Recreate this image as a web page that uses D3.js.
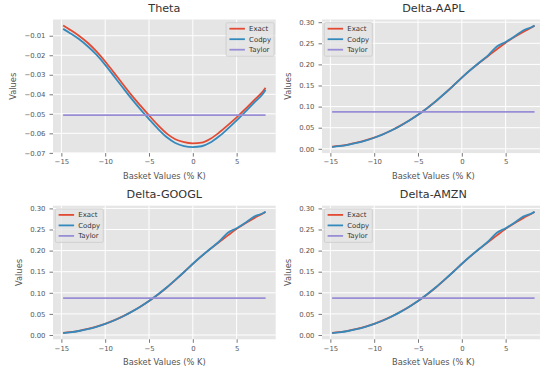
<!DOCTYPE html>
<html>
<head>
<meta charset="utf-8">
<script src="https://cdn.jsdelivr.net/npm/d3@7"></script>
<style>
  body { margin: 0; background: #fff; }
  svg { display: block; font-family: "DejaVu Sans", sans-serif; }
</style>
</head>
<body>
<div id="chart"></div>
<script>
// basket values (% of strike) shared by every series
const basket = [-14.8, -14, -13, -12, -11, -10, -9, -8, -7, -6, -5, -4, -3, -2, -1,
  0, 1, 2, 3, 4, 5, 6, 7, 8, 8.3];

const thetaExact = [-0.0048, -0.0070, -0.0100, -0.0136, -0.0180, -0.0232, -0.0289, -0.0347,
  -0.0404, -0.0457, -0.0508, -0.0557, -0.0600, -0.0630, -0.0645, -0.0651, -0.0648, -0.0628,
  -0.0596, -0.0558, -0.0518, -0.0475, -0.0430, -0.0385, -0.0367];
const thetaCodpy = [-0.0065, -0.0087, -0.0117, -0.0154, -0.0197, -0.0249, -0.0307, -0.0365,
  -0.0422, -0.0476, -0.0527, -0.0576, -0.0619, -0.0649, -0.0665, -0.0670, -0.0666, -0.0647,
  -0.0615, -0.0576, -0.0534, -0.0489, -0.0443, -0.0397, -0.0378];
const thetaTaylor = -0.0507;

const deltaExact = [0.0050, 0.0068, 0.0100, 0.0145, 0.0200, 0.0265, 0.0345, 0.0440, 0.0550,
  0.0670, 0.0805, 0.0955, 0.1120, 0.1300, 0.1490, 0.1685, 0.1870, 0.2040, 0.2200, 0.2360,
  0.2515, 0.2650, 0.2770, 0.2880, 0.2915];
const deltaCodpy = [0.0042, 0.0062, 0.0095, 0.0140, 0.0195, 0.0262, 0.0343, 0.0438, 0.0548,
  0.0670, 0.0805, 0.0958, 0.1125, 0.1305, 0.1492, 0.1688, 0.1872, 0.2045, 0.2215, 0.2425,
  0.2530, 0.2660, 0.2805, 0.2885, 0.2920];
const deltaTaylor = { AAPL: 0.0876, GOOGL: 0.0875, AMZN: 0.0875 };

const xTicks = [-15, -10, -5, 0, 5];
const thetaTicks = [-0.07, -0.06, -0.05, -0.04, -0.03, -0.02, -0.01];
const deltaTicks = [0, 0.05, 0.10, 0.15, 0.20, 0.25, 0.30];

const seriesNames = ['Exact', 'Codpy', 'Taylor'];
const colors = { Exact: '#E24A33', Codpy: '#348ABD', Taylor: '#988ED5' };

const panels = [
  { title: 'Theta', exact: thetaExact, codpy: thetaCodpy, taylor: thetaTaylor, ticks: thetaTicks,
    left: 53, top: 19.5, labelX: 13.5, legend: 'right' },
  { title: 'Delta-AAPL', exact: deltaExact, codpy: deltaCodpy, taylor: deltaTaylor.AAPL, ticks: deltaTicks,
    left: 322, top: 19.5, labelX: 288.5, legend: 'left' },
  { title: 'Delta-GOOGL', exact: deltaExact, codpy: deltaCodpy, taylor: deltaTaylor.GOOGL, ticks: deltaTicks,
    left: 53, top: 205.7, labelX: 19.5, legend: 'left' },
  { title: 'Delta-AMZN', exact: deltaExact, codpy: deltaCodpy, taylor: deltaTaylor.AMZN, ticks: deltaTicks,
    left: 322, top: 205.7, labelX: 288.5, legend: 'left' }
];

const W = 540, H = 373;
const pw = 222.7, ph = 133.6;

const svg = d3.select('#chart').append('svg')
  .attr('width', W).attr('height', H);

// matplotlib-like 5% margins around the data extent
function padded(ext) {
  const m = (ext[1] - ext[0]) * 0.05;
  return [ext[0] - m, ext[1] + m];
}

panels.forEach(p => {
  const g = svg.append('g').attr('transform', `translate(${p.left},${p.top})`);

  const x = d3.scaleLinear()
    .domain(padded(d3.extent(basket)))
    .range([0, pw]);
  const allY = p.exact.concat(p.codpy, [p.taylor]);
  const y = d3.scaleLinear()
    .domain(padded(d3.extent(allY)))
    .range([ph, 0]);

  g.append('rect')
    .attr('width', pw).attr('height', ph)
    .attr('fill', '#E5E5E5');

  // grid
  g.append('g').selectAll('line').data(xTicks).join('line')
    .attr('x1', d => x(d)).attr('x2', d => x(d))
    .attr('y1', 0).attr('y2', ph)
    .attr('stroke', '#fff').attr('stroke-width', 1);
  g.append('g').selectAll('line').data(p.ticks).join('line')
    .attr('y1', d => y(d)).attr('y2', d => y(d))
    .attr('x1', 0).attr('x2', pw)
    .attr('stroke', '#fff').attr('stroke-width', 1);

  // axes
  const xAxis = g.append('g')
    .attr('transform', `translate(0,${ph})`)
    .call(d3.axisBottom(x).tickValues(xTicks).tickSize(3.5).tickPadding(3).tickFormat(d3.format('d')));
  const yAxis = g.append('g')
    .call(d3.axisLeft(y).tickValues(p.ticks).tickSize(3.5).tickPadding(4).tickFormat(d3.format('.2f')));
  [xAxis, yAxis].forEach(a => {
    a.select('.domain').remove();
    a.selectAll('.tick line').attr('stroke', '#555').attr('stroke-width', 0.8);
    a.selectAll('.tick text').attr('fill', '#555')
      .style('font-size', '6.9px').style('font-family', '"DejaVu Sans", sans-serif');
  });

  // series
  const line = d3.line()
    .x((d, i) => x(basket[i]))
    .y(d => y(d))
    .curve(d3.curveMonotoneX);

  g.append('path').datum(p.exact)
    .attr('d', line).attr('fill', 'none')
    .attr('stroke', colors.Exact).attr('stroke-width', 1.8);
  g.append('path').datum(p.codpy)
    .attr('d', line).attr('fill', 'none')
    .attr('stroke', colors.Codpy).attr('stroke-width', 1.8);
  g.append('line')
    .attr('x1', x(basket[0])).attr('x2', x(basket[basket.length - 1]))
    .attr('y1', y(p.taylor)).attr('y2', y(p.taylor))
    .attr('stroke', colors.Taylor).attr('stroke-width', 1.8);

  // title and labels
  g.append('text')
    .attr('x', pw / 2).attr('y', -7.5)
    .attr('text-anchor', 'middle')
    .attr('fill', '#333')
    .style('font-size', '11.2px')
    .style('font-weight', 'normal')
    .text(p.title);
  g.append('text')
    .attr('x', pw / 2).attr('y', ph + 26)
    .attr('text-anchor', 'middle')
    .attr('fill', '#555')
    .style('font-size', '8.3px')
    .text('Basket Values (% K)');
  svg.append('text')
    .attr('transform', `translate(${p.labelX},${p.top + ph / 2}) rotate(-90)`)
    .attr('text-anchor', 'middle')
    .attr('dy', '0.35em')
    .attr('fill', '#555')
    .style('font-size', '8.3px')
    .text('Values');

  // legend
  const lw = 48, lh = 33.5;
  const lx = p.legend === 'right' ? pw - lw - 1.6 : 2.3;
  const leg = g.append('g').attr('transform', `translate(${lx},3.2)`);
  leg.append('rect')
    .attr('width', lw).attr('height', lh)
    .attr('rx', 1.5)
    .attr('fill', '#E5E5E5').attr('fill-opacity', 0.8)
    .attr('stroke', '#CCCCCC').attr('stroke-width', 0.8);
  seriesNames.forEach((name, i) => {
    const ly = 6 + i * 10.5;
    leg.append('line')
      .attr('x1', 3.3).attr('x2', 18.8)
      .attr('y1', ly).attr('y2', ly)
      .attr('stroke', colors[name]).attr('stroke-width', 1.8);
    leg.append('text')
      .attr('x', 23).attr('y', ly)
      .attr('dy', '0.35em')
      .attr('fill', '#333')
      .style('font-size', '6.9px')
      .text(name);
  });
});
</script>
</body>
</html>
